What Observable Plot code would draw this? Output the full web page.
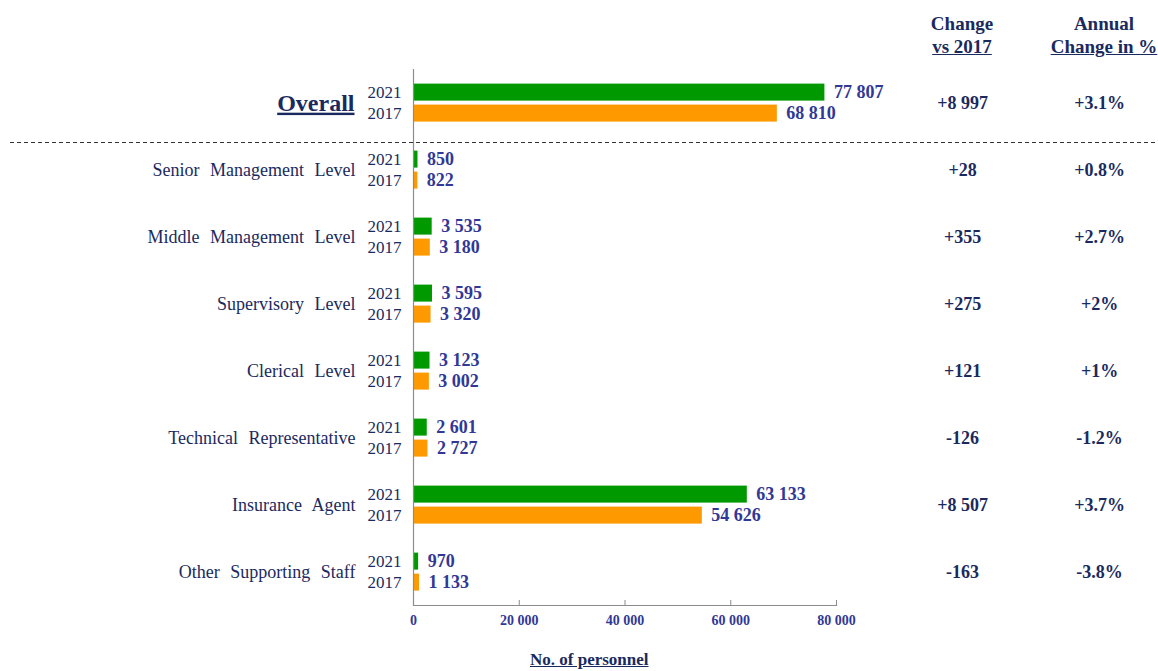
<!DOCTYPE html>
<html><head><meta charset="utf-8">
<script src="https://cdn.jsdelivr.net/npm/d3@7"></script>
<script src="https://cdn.jsdelivr.net/npm/@observablehq/plot@0.6"></script>
<style>
body{margin:0;background:#fff;}
#wrap{position:relative;width:1158px;height:671px;font-family:"Liberation Serif","Times New Roman",serif;color:#1a2a5e;}
.hdr{position:absolute;top:12px;font-weight:bold;font-size:19px;line-height:23px;text-align:center;}
.hdr span{text-decoration:underline;}
#dash{position:absolute;left:10px;right:0;top:142px;height:1px;background:repeating-linear-gradient(to right,#333 0 4px,transparent 4px 7px);}
#xlabel{position:absolute;top:650px;left:530px;font-weight:bold;font-size:17px;text-decoration:underline;}
</style></head>
<body><div id="wrap"></div>
<script>
const categories = ["Overall","Senior Management Level","Middle Management Level","Supervisory Level","Clerical Level","Technical Representative","Insurance Agent","Other Supporting Staff"];
const years = ["2021","2017"];
const v2021 = [77807,850,3535,3595,3123,2601,63133,970];
const v2017 = [68810,822,3180,3320,3002,2727,54626,1133];
const changeVs2017 = ["+8 997","+28","+355","+275","+121","-126","+8 507","-163"];
const annualChange = ["+3.1%","+0.8%","+2.7%","+2%","+1%","-1.2%","+3.7%","-3.8%"];
const xTicks = [0,20000,40000,60000,80000];
const colHeaders = [["Change","vs 2017"],["Annual","Change in %"]];
const xTitle = "No. of personnel";

const navy = "#1a2a5e", valueBlue = "#313896";
const fmt = d3.formatLocale({decimal:".",thousands:" ",grouping:[3],currency:["",""]}).format(",d");

const rows = [];
categories.forEach((c,i)=>{
  rows.push({cat:c, year:"2021", value:v2021[i]});
  rows.push({cat:c, year:"2017", value:v2017[i]});
});
const cats = categories.map((c,i)=>({cat:c, change:changeVs2017[i], annual:annualChange[i]}));

const chart = Plot.plot({
  width:1158, height:671,
  marginLeft:413, marginRight:322, marginTop:68.4, marginBottom:65.4,
  style:{fontFamily:"'Liberation Serif','Times New Roman',serif", background:"white", overflow:"visible"},
  x:{domain:[0,80000]},
  y:{domain:years, paddingInner:0.2, paddingOuter:0.66},
  fy:{domain:categories, padding:0},
  color:{domain:years, range:["#009900","#ff9900"]},
  marks:[
    Plot.barX(rows,{fy:"cat", y:"year", x:"value", fill:"year"}),
    Plot.ruleX([0],{stroke:"#8c8c8c", strokeWidth:1.2}),
    Plot.frame({anchor:"bottom", facetAnchor:"bottom", stroke:"#8c8c8c", strokeWidth:1.2}),
    Plot.axisX({ticks:xTicks, tickFormat:fmt, tickSize:-5, tickPadding:15, stroke:"#8c8c8c", fill:valueBlue, fontWeight:"bold", fontSize:14, label:null}),
    Plot.axisY({tickSize:0, tickPadding:12, fontSize:17, fill:navy, label:null}),
    Plot.axisFy({label:null, ticks:[]}),
    Plot.text(rows,{fy:"cat", y:"year", x:"value", text:d=>fmt(d.value), dx:9, textAnchor:"start", fontWeight:"bold", fontSize:18, fill:valueBlue}),
    Plot.text(cats.filter(d=>d.cat!=="Overall"),{fy:"cat", text:"cat", frameAnchor:"left", dx:-58, textAnchor:"end", fontSize:18, fill:navy}),
    Plot.text(cats.filter(d=>d.cat==="Overall"),{fy:"cat", text:"cat", frameAnchor:"left", dx:-59, textAnchor:"end", fontSize:24, fontWeight:"bold", fill:navy}),
    Plot.text(cats,{fy:"cat", text:"change", frameAnchor:"right", dx:126, textAnchor:"middle", fontWeight:"bold", fontSize:18, fill:navy}),
    Plot.text(cats,{fy:"cat", text:"annual", frameAnchor:"right", dx:263, textAnchor:"middle", fontWeight:"bold", fontSize:18, fill:navy})
  ]
});
d3.select(chart).selectAll("text").each(function(){
  const t = this.textContent;
  if (t === "Overall") d3.select(this).style("text-decoration","underline");
  else if (categories.includes(t)) d3.select(this).style("word-spacing","6px");
});

const wrap = document.getElementById("wrap");
wrap.appendChild(chart);
const hdrPos = [{left:912,width:100},{left:1045,width:118}];
colHeaders.forEach((h,i)=>{
  const d = document.createElement("div");
  d.className = "hdr";
  d.style.left = hdrPos[i].left+"px"; d.style.width = hdrPos[i].width+"px";
  d.innerHTML = h[0]+"<br><span>"+h[1]+"</span>";
  wrap.appendChild(d);
});
const dash = document.createElement("div"); dash.id="dash"; wrap.appendChild(dash);
const xl = document.createElement("div"); xl.id="xlabel"; xl.textContent = xTitle; wrap.appendChild(xl);
</script>
</body></html>
